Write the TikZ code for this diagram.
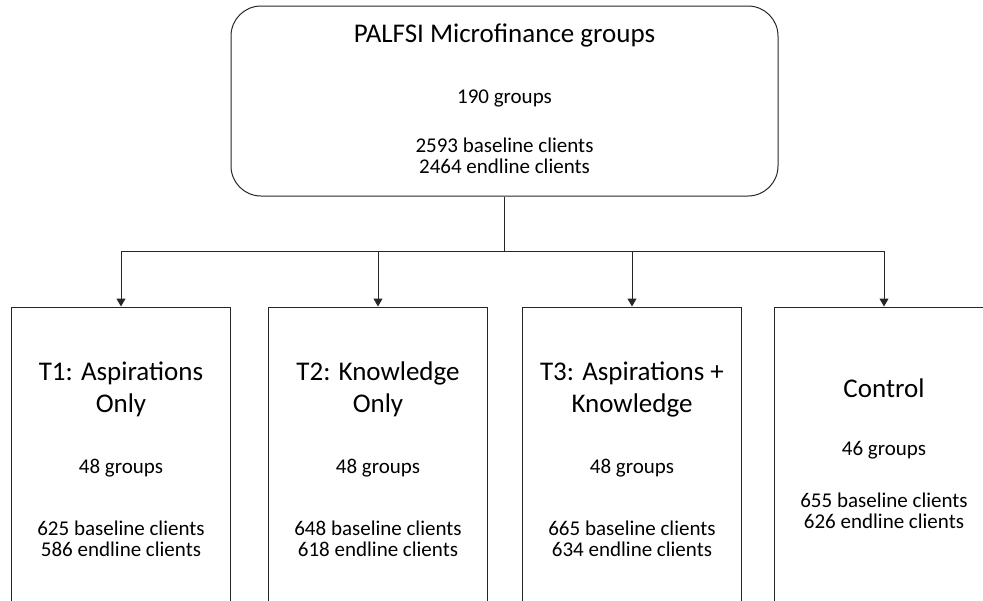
\documentclass[tikz,border=0pt]{standalone}
\usepackage{fontspec}
\setmainfont{Carlito}
\usepackage{tikz}
\usetikzlibrary{arrows.meta, positioning}
\tikzstyle{topbox} = [rectangle, rounded corners=30pt, draw=black!85, line width=1pt, minimum width=547pt, minimum height=190pt, inner sep=0pt]
\tikzstyle{groupbox} = [rectangle, draw=black!85, line width=1pt, minimum width=219pt, minimum height=313pt, inner sep=0pt]
\tikzstyle{head} = [anchor=base, inner sep=0pt, align=center, font=\fontsize{27}{32}\selectfont]
\tikzstyle{info} = [anchor=base, inner sep=0pt, align=center, font=\fontsize{21}{21}\selectfont]
\tikzstyle{link} = [line width=1pt, draw=black!85]
\tikzstyle{arrow} = [link, -{Triangle[width=9pt,length=8pt]}]

\begin{document}
\begin{tikzpicture}[x=1pt, y=-1pt]
        \useasboundingbox (0,0) rectangle (983,600);
        \node (palfsi) [topbox] at (504.5,101) {};
        \node (t1) [groupbox] at (121,463.5) {};
        \node (t2) [groupbox] at (378,463.5) {};
        \node (t3) [groupbox] at (632,463.5) {};
        \node (ctrl) [groupbox] at (884,463.5) {};
        \coordinate (split) at (504.5,251);

        % base anchor of a two-line node sits on its last line
        \node (palfsititle) [head] at (504.5,42) {PALFSI Microfinance groups};
        \node (palfsigroups) [info] at (504.5,103) {190 groups};
        \node (palfsiclients) [info] at (504.5,173) {2593 baseline clients\\2464 endline clients};

        \node (t1title) [head] at (121,412) {T1: Aspirations\\Only};
        \node (t1groups) [info] at (121,473) {48 groups};
        \node (t1clients) [info] at (121,556) {625 baseline clients\\586 endline clients};

        \node (t2title) [head] at (378,412) {T2: Knowledge\\Only};
        \node (t2groups) [info] at (378,473) {48 groups};
        \node (t2clients) [info] at (378,556) {648 baseline clients\\618 endline clients};

        \node (t3title) [head] at (632,412) {T3: Aspirations +\\Knowledge};
        \node (t3groups) [info] at (632,473) {48 groups};
        \node (t3clients) [info] at (632,556) {665 baseline clients\\634 endline clients};

        \node (ctrltitle) [head] at (884,397) {Control};
        \node (ctrlgroups) [info] at (884,455) {46 groups};
        \node (ctrlclients) [info] at (884,528) {655 baseline clients\\626 endline clients};

        \draw [link] (palfsi.south) -- (split);
        \draw [arrow] (split) -| (t1.north);
        \draw [arrow] (split) -| (t2.north);
        \draw [arrow] (split) -| (t3.north);
        \draw [arrow] (split) -| (ctrl.north);
    \end{tikzpicture}
\end{document}
